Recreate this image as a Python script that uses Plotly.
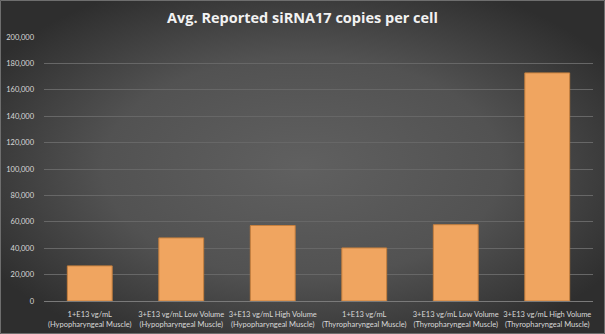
import plotly.graph_objects as go
import base64

categories = [
    "1+E13 vg/mL<br>(Hypopharyngeal Muscle)",
    "3+E13 vg/mL Low Volume<br>(Hypopharyngeal Muscle)",
    "3+E13 vg/mL High Volume<br>(Hypopharyngeal Muscle)",
    "1+E13 vg/mL<br>(Thyropharyngeal Muscle)",
    "3+E13 vg/mL Low Volume<br>(Thyropharyngeal Muscle)",
    "3+E13 vg/mL High Volume<br>(Thyropharyngeal Muscle)",
]
copies_per_cell = [26600, 47800, 57200, 40200, 57800, 172800]
y_ticks = [0, 20000, 40000, 60000, 80000, 100000, 120000, 140000, 160000, 180000, 200000]
y_tick_labels = ["0", "20,000", "40,000", "60,000", "80,000", "100,000",
                 "120,000", "140,000", "160,000", "180,000", "200,000"]
title_text = "Avg. Reported siRNA17 copies per cell"

W, H = 605, 334
PW, PH = 549, 264

svg = f'''<svg xmlns="http://www.w3.org/2000/svg" width="{W}" height="{H}" viewBox="0 0 {W} {H}">
<defs><radialGradient id="g" cx="0.5" cy="0.5" r="0.6" gradientUnits="objectBoundingBox">
<stop offset="0" stop-color="#606060"/><stop offset="0.55" stop-color="#525252"/>
<stop offset="1" stop-color="#2e2e2e"/></radialGradient></defs>
<rect x="0" y="0" width="{W}" height="{H}" fill="url(#g)"/>
</svg>'''
bg_src = "data:image/svg+xml;base64," + base64.b64encode(svg.encode()).decode()

fig = go.Figure()
fig.add_trace(go.Bar(
    x=categories,
    y=copies_per_cell,
    marker=dict(color="#F0A560", line=dict(color="#C47F3E", width=1)),
    width=0.49,
    hoverinfo="skip",
))

fig.update_layout(
    width=W, height=H,
    margin=dict(l=44, r=12, t=37, b=33, autoexpand=False),
    paper_bgcolor="#3c3c3c",
    plot_bgcolor="rgba(0,0,0,0)",
    showlegend=False,
    title=dict(text=f"<b>{title_text}</b>", x=0.5, xanchor="center", y=1 - 18 / H,
               yanchor="middle", font=dict(family="Open Sans", size=14.5, color="#f2f2f2")),
    font=dict(family="Lato", color="#d9d9d9", size=8),
    images=[dict(source=bg_src, xref="paper", yref="paper", x=-44 / PW, y=1 + 37 / PH,
                 sizex=W / PW, sizey=H / PH, xanchor="left", yanchor="top",
                 sizing="stretch", layer="below")],
    xaxis=dict(
        showgrid=False, showline=True, linecolor="#7a7a7a", linewidth=1,
        ticks="", tickfont=dict(size=7.5, color="#d9d9d9", family="Lato"),
        tickangle=0, fixedrange=True, automargin=False, ticklabelstandoff=6,
    ),
    yaxis=dict(
        range=[0, 200000], tickvals=y_ticks, ticktext=y_tick_labels,
        showgrid=True, gridcolor="#676767", gridwidth=1, zeroline=False,
        showline=False, ticks="", ticklabelstandoff=9, automargin=False,
        tickfont=dict(size=7.5, color="#d9d9d9", family="Lato"), fixedrange=True,
    ),
    shapes=[dict(type="rect", xref="paper", yref="paper",
                 x0=-43.5 / PW, x1=1 + 11.5 / PW, y0=-32.5 / PH, y1=1 + 36.5 / PH,
                 line=dict(color="#6e6e6e", width=1), layer="above")],
)

fig.write_html("out.html", config={"displayModeBar": False})
